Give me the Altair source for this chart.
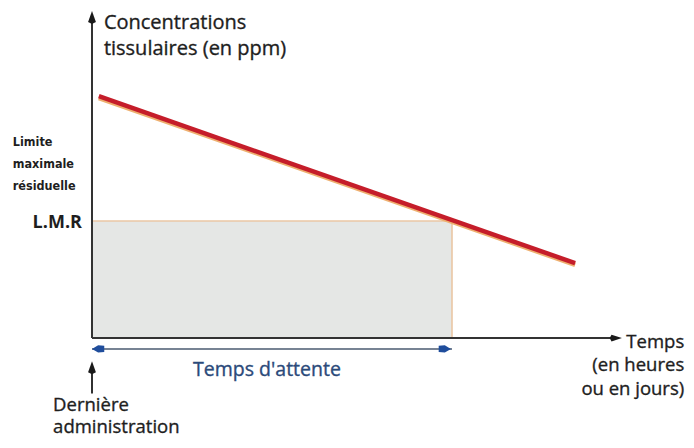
import altair as alt
import pandas as pd

# Schematic coordinates: time (t) and tissue concentration (c), arbitrary units
X_DOMAIN = [-2.3333, 16.5]
Y_DOMAIN = [-2.615, 8.4615]

# Residue depletion curve
curve_t = [0.19, 13.42]
curve_c = [6.2, 1.92]

# Maximum residue limit and withdrawal time
LMR = 3.0
WITHDRAWAL_END = 10.0

# Axis extents
y_axis_top = 8.3
y_head_c = 8.22
x_axis_right = 14.5
x_head_t = 14.55

# Withdrawal-period arrow level and "last administration" arrow
wait_c = -0.28
last_admin_c = [-1.42, -0.76]

xs = alt.Scale(domain=X_DOMAIN, nice=False, zero=False)
ys = alt.Scale(domain=Y_DOMAIN, nice=False, zero=False)

def X(f="t"):
    return alt.X(f"{f}:Q", scale=xs, axis=None)

def Y(f="c"):
    return alt.Y(f"{f}:Q", scale=ys, axis=None)

FONT = "Open Sans"
INK = "#1e1e1e"

curve_df = pd.DataFrame({"t": curve_t, "c": curve_c})

rect_df = pd.DataFrame({"t": [0.0], "t2": [WITHDRAWAL_END], "c": [0.0], "c2": [LMR]})
rect = alt.Chart(rect_df).mark_rect(color="#e5e7e5").encode(
    x=X(), x2="t2:Q", y=Y(), y2="c2:Q")

lmr_rules = alt.Chart(pd.DataFrame({
    "t": [0.0, WITHDRAWAL_END], "t2": [WITHDRAWAL_END, WITHDRAWAL_END],
    "c": [LMR, 0.0], "c2": [LMR, LMR]})).mark_rule(color="#eac7a4", strokeWidth=1.6).encode(
    x=X(), x2="t2:Q", y=Y(), y2="c2:Q")

shadow = alt.Chart(curve_df).mark_line(color="#eeb070", strokeWidth=4.5, yOffset=1.8).encode(
    x=X(), y=Y())
curve = alt.Chart(curve_df).mark_line(color="#c51d2a", strokeWidth=4.5).encode(
    x=X(), y=Y())

axes_df = pd.DataFrame({
    "t": [0.0, 0.0], "t2": [0.0, x_axis_right],
    "c": [0.0, 0.0], "c2": [y_axis_top, 0.0]})
axes = alt.Chart(axes_df).mark_rule(color="#333333", strokeWidth=2).encode(
    x=X(), x2="t2:Q", y=Y(), y2="c2:Q")

up_head = alt.Chart(pd.DataFrame({"t": [0.0, 0.0], "c": [y_head_c, last_admin_c[1]]})).mark_point(
    shape="M0,-1L0.6,0.7L0,1L-0.6,0.7Z", filled=True, color="#1a1a1a", opacity=1, size=170).encode(
    x=X(), y=Y())
right_head = alt.Chart(pd.DataFrame({"t": [x_head_t], "c": [0.0]})).mark_point(
    shape="M1,0L-0.7,-0.55L-1,0L-0.7,0.55Z", filled=True, color="#1a1a1a", opacity=1, size=150).encode(
    x=X(), y=Y())

last_admin = alt.Chart(pd.DataFrame({"t": [0.0], "c": [last_admin_c[0]], "c2": [last_admin_c[1]]})).mark_rule(
    color="#1a1a1a", strokeWidth=1.8).encode(x=X(), y=Y(), y2="c2:Q")

wait_line = alt.Chart(pd.DataFrame({"t": [0.0], "t2": [WITHDRAWAL_END], "c": [wait_c]})).mark_rule(
    color="#4a5a70", strokeWidth=1.6).encode(x=X(), x2="t2:Q", y=Y())
wait_left = alt.Chart(pd.DataFrame({"t": [0.17], "c": [wait_c]})).mark_point(
    shape="M-1,0L0,-0.6L1,-0.5L1,0.5L0,0.6Z", filled=True, color="#1f4d9c", opacity=1, size=150).encode(
    x=X(), y=Y())
wait_right = alt.Chart(pd.DataFrame({"t": [9.8], "c": [wait_c]})).mark_point(
    shape="M1,0L0,-0.6L-1,-0.5L-1,0.5L0,0.6Z", filled=True, color="#1f4d9c", opacity=1, size=150).encode(
    x=X(), y=Y())

def text_layer(labels, ts, cs, size, align="left", color=INK, weight="normal", font=FONT, stroke=0.35):
    df = pd.DataFrame({"label": labels, "t": ts, "c": cs})
    kw = {}
    if stroke > 0:
        kw = {"stroke": color, "strokeWidth": stroke}
    return alt.Chart(df).mark_text(
        align=align, baseline="middle", fontSize=size, font=font,
        fontWeight=weight, color=color, **kw).encode(x=X(), y=Y(), text="label:N")

y_title = text_layer(["Concentrations", "tissulaires (en ppm)"], [0.33, 0.33], [8.08, 7.42], 20)
lmr_desc = text_layer(["Limite", "maximale", "résiduelle"], [-2.2, -2.2, -2.2], [5.03, 4.46, 3.9],
                      12.5, weight="bold", font="DejaVu Sans Condensed", stroke=0)
lmr_label = text_layer(["L.M.R"], [-0.28], [2.95], 18, align="right", weight="bold", stroke=0)
x_title = text_layer(["Temps", "(en heures", "ou en jours)"], [16.45, 16.45, 16.45],
                     [-0.1, -0.69, -1.3], 18.5, align="right")
wait_text = text_layer(["Temps d'attente"], [4.86], [-0.82], 19.5, align="center", color="#2b4a7a")
admin_text = text_layer(["Dernière", "administration"], [-1.08, -1.08], [-1.71, -2.29], 18.5)

chart = alt.layer(
    rect, lmr_rules, shadow, curve, axes, up_head, right_head, last_admin,
    wait_line, wait_left, wait_right,
    y_title, lmr_desc, lmr_label, x_title, wait_text, admin_text,
).properties(
    width=678, height=432, padding=0,
    autosize=alt.AutoSizeParams(type="none"),
).configure_view(stroke=None)

chart.save("out.html", embed_options={"renderer": "svg", "actions": False})
